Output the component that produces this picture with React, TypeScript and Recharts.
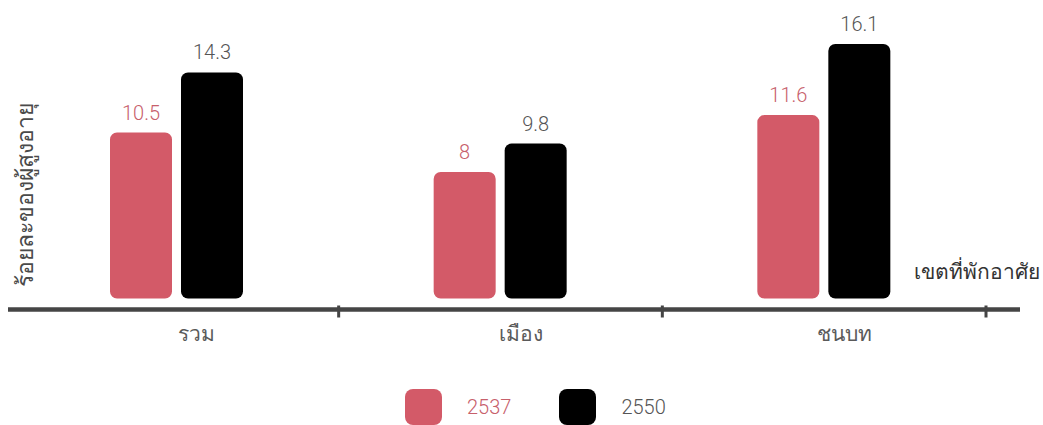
import { BarChart, Bar, XAxis, YAxis, LabelList } from "recharts";

const CATEGORIES = ["รวม", "เมือง", "ชนบท"];
const VALUES_2537 = [10.5, 8, 11.6];
const VALUES_2550 = [14.3, 9.8, 16.1];
const YEARS = ["2537", "2550"];

const Y_TITLE = "ร้อยละของผู้สูงอายุ";
const X_TITLE = "เขตที่พักอาศัย";

const PINK = "#d35a68";
const PINK_TEXT = "#c7606b";
const INK = "#000000";
const GREY_TEXT = "#555555";
const AXIS = "#454545";
const FONT = "Roboto, 'Noto Sans', sans-serif";

const W = 1043;
const H = 425;
const PLOT_LEFT = 8;
const PLOT_RIGHT = 1020;
const PAD_L = 7;
const PAD_R = 34;
// band width, used to put tick marks on the category boundaries
const BAND = (PLOT_RIGHT - PLOT_LEFT - PAD_L - PAD_R) / CATEGORIES.length;

const data = CATEGORIES.map((name, i) => ({
  name,
  y2537: VALUES_2537[i],
  y2550: VALUES_2550[i],
}));

const SERIES = [
  { key: "y2537", year: YEARS[0], fill: PINK, text: PINK_TEXT },
  { key: "y2550", year: YEARS[1], fill: INK, text: GREY_TEXT },
];

function CategoryTick(props: any) {
  const { x, y, payload } = props;
  return (
    <g>
      <line x1={x + BAND / 2} x2={x + BAND / 2} y1={y - 12} y2={y} stroke={AXIS} strokeWidth={3} />
      <text x={x + 20} y={y + 23} textAnchor="middle" fill="#5a5a5a" fontSize={21} fontWeight={300} fontFamily={FONT}>
        {payload.value}
      </text>
    </g>
  );
}

export default function App() {
  return (
    <div style={{ position: "absolute", left: 0, top: 0, width: W, height: H, background: "#fff" }}>
      <BarChart
        width={W}
        height={H}
        data={data}
        margin={{ top: 44, right: W - PLOT_RIGHT, bottom: 75.5, left: 0 }}
        barSize={62}
        barGap={9}
      >
        <XAxis
          dataKey="name"
          height={40}
          padding={{ left: PAD_L, right: PAD_R }}
          axisLine={{ stroke: AXIS, strokeWidth: 4.5 }}
          tickLine={false}
          tick={<CategoryTick />}
          interval={0}
          label={(p: any) => {
            const vb = p.viewBox;
            return (
              <text x={1040} y={vb.y - 31} textAnchor="end" fill="#333" fontSize={21} fontWeight={500} fontFamily={FONT}>
                {X_TITLE}
              </text>
            );
          }}
        />
        <YAxis
          width={PLOT_LEFT}
          domain={[-0.7, 16.1]}
          tick={false}
          axisLine={false}
          tickLine={false}
          label={(p: any) => {
            const vb = p.viewBox;
            const cy = vb.y + vb.height / 2 + 18;
            return (
              <text
                x={33}
                y={cy}
                transform={`rotate(-90, 33, ${cy})`}
                textAnchor="middle"
                fill="#4a4a4a"
                fontSize={23}
                fontWeight={300}
                fontFamily={FONT}
              >
                {Y_TITLE}
              </text>
            );
          }}
        />
        {SERIES.map((s) => (
          <Bar key={s.key} dataKey={s.key} fill={s.fill} radius={[7, 7, 7, 7]} isAnimationActive={false}>
            <LabelList
              dataKey={s.key}
              position="top"
              offset={13}
              fill={s.text}
              fontSize={20}
              fontWeight={300}
              fontFamily={FONT}
            />
          </Bar>
        ))}
      </BarChart>
      <div
        style={{
          position: "absolute",
          left: 405,
          top: 389,
          display: "flex",
          alignItems: "center",
          fontFamily: FONT,
          fontSize: 20,
          fontWeight: 300,
        }}
      >
        {SERIES.map((s, i) => (
          <div key={s.key} style={{ display: "flex", alignItems: "center", marginLeft: i ? 48 : 0 }}>
            <span style={{ width: 37, height: 36, borderRadius: 8, background: s.fill, display: "inline-block" }} />
            <span style={{ marginLeft: 25, color: s.text }}>{s.year}</span>
          </div>
        ))}
      </div>
    </div>
  );
}
